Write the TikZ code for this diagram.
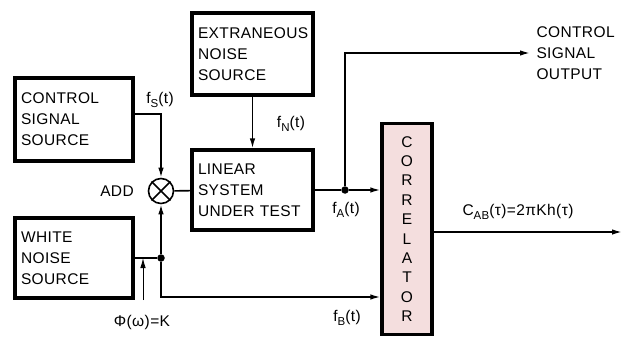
\documentclass[tikz,border=0pt]{standalone}
\usepackage{fontspec}
\setmainfont{Liberation Sans}[LetterSpace=2.5]
\usetikzlibrary{arrows.meta}
\newcommand{\lowsub}[1]{\raisebox{-0.5ex}{\fontsize{11.5}{11.5}\selectfont #1}}

\begin{document}
\begin{tikzpicture}[x=1pt,y=-1pt,
  every node/.style={font=\fontsize{15.5}{21}\selectfont},
  blk/.style={draw,line width=3.2pt,align=left,inner xsep=6pt,inner ysep=0pt},
  sig/.style={line width=1.6pt,-{Latex[length=10pt,width=5.5pt]}},
  wire/.style={line width=1.6pt},
  dot/.style={circle,fill,inner sep=0pt,minimum size=7.5pt}]
\useasboundingbox (0,0) rectangle (635,337);

% blocks
\node[blk,minimum width=118pt,minimum height=83pt,text width=106pt] (ctrl) at (74,119.5) {CONTROL\\SIGNAL\\SOURCE};
\node[blk,minimum width=121pt,minimum height=82pt,text width=109pt] (extra) at (252.5,54) {EXTRANEOUS\\NOISE\\SOURCE};
\node[blk,minimum width=118pt,minimum height=80pt,text width=106pt] (white) at (74,258) {WHITE\\NOISE\\SOURCE};
\node[blk,minimum width=121pt,minimum height=80pt,text width=109pt] (lin) at (252.5,190) {LINEAR\\SYSTEM\\UNDER TEST};
\node[blk,fill={rgb,255:red,244;green,222;blue,222},minimum width=50pt,minimum height=211pt,
  text width=38pt,align=center,font=\fontsize{15.5}{19.4}\selectfont] (corr) at (407,229)
  {C\\O\\R\\R\\E\\L\\A\\T\\O\\R};

% adder
\node[circle,draw,line width=1.6pt,minimum size=25pt,inner sep=0pt] (add) at (161,191) {};
\draw[line width=1.6pt] (add.north west) -- (add.south east) (add.north east) -- (add.south west);
\node (addl) at (117,191) {ADD};

% junctions and free ends
\node[dot] (jb) at (161,258) {};
\node[dot] (ja) at (345,190) {};
\coordinate (cout) at (530,53);
\coordinate (tout) at (622,232);
\coordinate (phi) at (143,300);

% connectors
\draw[sig] ([yshift=5.5pt]ctrl.east) -| (add.north);
\draw[sig] (extra) -- (lin);
\draw[wire] (add) -- (lin);
\draw[wire] (white.east |- jb) -- (jb);
\draw[sig] (jb) -- (add.south);
\draw[sig] (jb) |- ([yshift=-68pt]corr.west);
\draw[wire] (lin.east |- ja) -- (ja);
\draw[sig] (ja) -- (ja -| corr.west);
\draw[sig] (ja) |- (cout);
\draw[sig] (corr.east |- tout) -- (tout);
\draw[sig,line width=0.9pt] (phi) -- (phi |- jb);

% labels
\node (fs) at (160,100) {f\lowsub{S}(t)};
\node (fn) at (291,124) {f\lowsub{N}(t)};
\node (fa) at (346,210) {f\lowsub{A}(t)};
\node (fb) at (347,318) {f\lowsub{B}(t)};
\node (phil) at (142,322) {Φ(ω)=K};
\node (cab) at (518,212) {C\lowsub{AB}(τ)=2πKh(τ)};
\node[anchor=west,align=left] (outl) at (533,53) {CONTROL\\SIGNAL\\OUTPUT};
\end{tikzpicture}
\end{document}
